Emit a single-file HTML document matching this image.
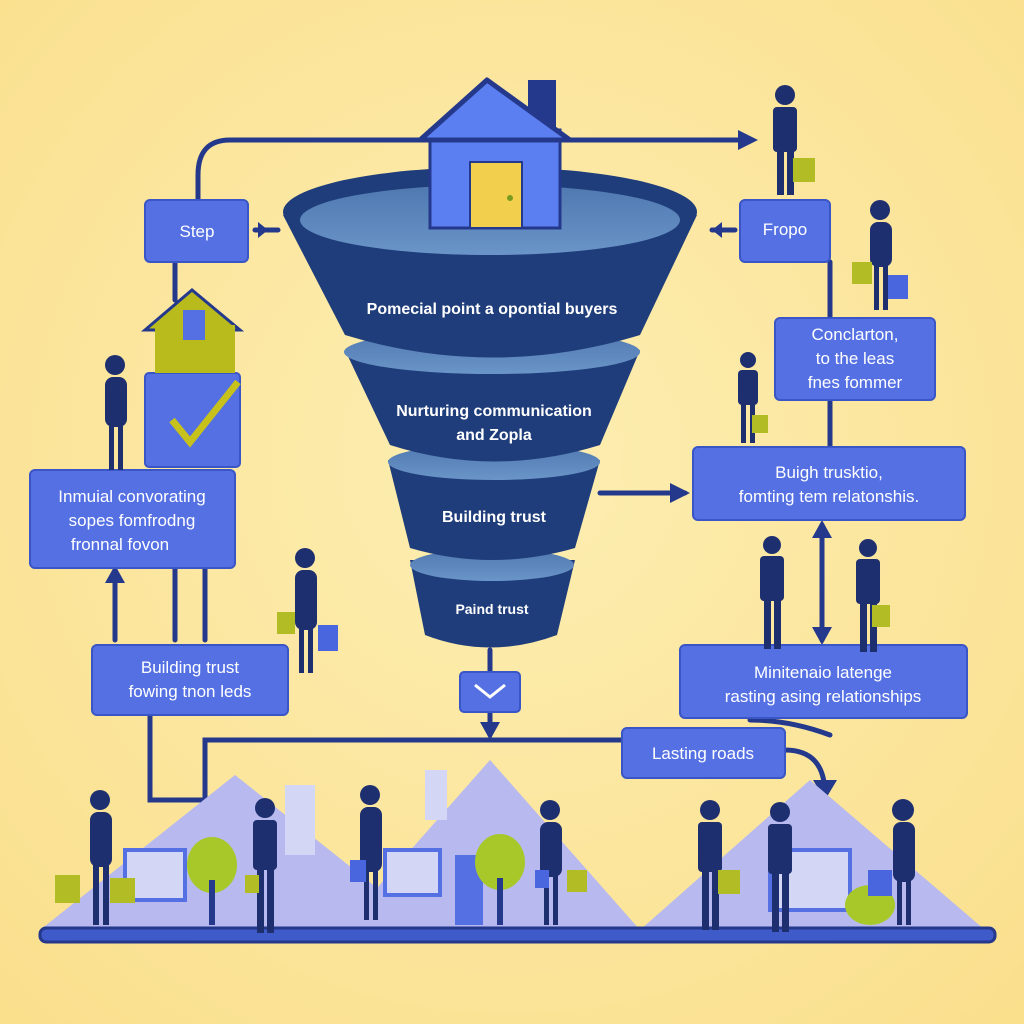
<!DOCTYPE html>
<html><head><meta charset="utf-8"><style>
html,body{margin:0;padding:0;width:1024px;height:1024px;overflow:hidden}
svg{display:block}
text{font-family:"Liberation Sans",sans-serif}
</style></head><body>
<svg width="1024" height="1024" viewBox="0 0 1024 1024" xmlns="http://www.w3.org/2000/svg">
<defs>
<radialGradient id="bg" cx="50%" cy="45%" r="75%"><stop offset="0" stop-color="#fdeeb2"/><stop offset="1" stop-color="#fadf8c"/></radialGradient>
<linearGradient id="rim" x1="0" y1="0" x2="0" y2="1"><stop offset="0" stop-color="#4f78b0"/><stop offset="1" stop-color="#6a95c8"/></linearGradient>
</defs>
<rect width="1024" height="1024" fill="url(#bg)"/>

<!-- connectors -->
<g stroke="#24388c" stroke-width="5" fill="none" stroke-linecap="round">
<path d="M198 200 V175 Q198 140 230 140 H420"/>
<path d="M560 140 H745"/>
<path d="M175 262 V300"/>
<path d="M255 230 H278"/>
<path d="M735 230 H712"/>
<path d="M830 262 V318"/>
<path d="M830 400 V447"/>
<path d="M600 493 H685"/>
<path d="M822 525 V640"/>
<path d="M115 570 V640"/>
<path d="M175 568 V640"/>
<path d="M205 568 V640"/>
<path d="M490 650 V735"/>
<path d="M150 715 V800 H205 V740 H625"/>
<path d="M785 750 Q825 750 825 795"/>
<path d="M750 720 Q790 720 830 735"/>
</g>
<g fill="#24388c">
<polygon points="758,140 738,130 738,150"/>
<polygon points="690,493 670,483 670,503"/>
<polygon points="822,520 812,538 832,538"/>
<polygon points="822,645 812,627 832,627"/>
<polygon points="115,565 105,583 125,583"/>
<polygon points="490,740 480,722 500,722"/>
<polygon points="825,800 813,780 837,780"/>
<polygon points="268,230 258,222 258,238"/>
<polygon points="712,230 722,222 722,238"/>
</g>

<!-- funnel -->
<path d="M410 560 L425 635 Q490 660 557 635 L575 560 Z" fill="#1f3d7a"/>
<ellipse cx="492" cy="565" rx="82" ry="16" fill="url(#rim)"/>
<path d="M388 460 L410 548 Q492 572 575 548 L600 460 Z" fill="#1f3d7a"/>
<ellipse cx="494" cy="462" rx="106" ry="18" fill="url(#rim)"/>
<path d="M345 350 L390 445 Q494 478 600 445 L640 350 Z" fill="#1f3d7a"/>
<ellipse cx="492" cy="352" rx="148" ry="22" fill="url(#rim)"/>
<path d="M283 215 L345 335 Q492 380 640 335 L697 215 Z" fill="#1f3d7a"/>
<ellipse cx="490" cy="212" rx="207" ry="45" fill="#1f3d7a"/>
<ellipse cx="490" cy="220" rx="190" ry="35" fill="url(#rim)"/>

<!-- house on funnel -->
<rect x="528" y="80" width="28" height="50" fill="#24388c"/>
<rect x="430" y="130" width="130" height="98" fill="#5b7ff0" stroke="#24388c" stroke-width="3"/>
<polygon points="420,140 487,80 570,140" fill="#5b7ff0" stroke="#24388c" stroke-width="5" stroke-linejoin="round"/>
<rect x="470" y="162" width="52" height="66" fill="#f3cf4e" stroke="#24388c" stroke-width="2"/>
<circle cx="510" cy="198" r="3" fill="#7a9a20"/>

<g fill="#fff" font-size="16" text-anchor="middle" font-weight="bold">
<text x="492" y="314">Pomecial point a opontial buyers</text>
<text x="494" y="416">Nurturing communication</text>
<text x="494" y="440">and Zopla</text>
<text x="494" y="522">Building trust</text>
<text x="492" y="614" font-size="14">Paind trust</text>
</g>

<!-- boxes -->
<g fill="#5470e3" stroke="#3a55c6" stroke-width="2">
<rect x="145" y="200" width="103" height="62" rx="5"/>
<rect x="740" y="200" width="90" height="62" rx="5"/>
<rect x="775" y="318" width="160" height="82" rx="5"/>
<rect x="693" y="447" width="272" height="73" rx="5"/>
<rect x="680" y="645" width="287" height="73" rx="5"/>
<rect x="622" y="728" width="163" height="50" rx="5"/>
<rect x="92" y="645" width="196" height="70" rx="5"/>
<rect x="30" y="470" width="205" height="98" rx="5"/>
<rect x="460" y="672" width="60" height="40" rx="4"/>
<rect x="145" y="373" width="95" height="94" rx="4"/>
</g>
<path d="M172 420 L190 442 L238 382" stroke="#c6c21b" stroke-width="7" fill="none"/>
<path d="M475 685 L490 697 L505 685" stroke="#fff" stroke-width="3" fill="none"/>
<!-- green house -->
<polygon points="145,330 192,290 240,330" fill="#b9bb1c" stroke="#24388c" stroke-width="3"/>
<rect x="155" y="325" width="80" height="48" fill="#b9bb1c"/>
<rect x="183" y="310" width="22" height="30" fill="#5470e3"/>

<g fill="#fff" font-size="17" text-anchor="middle">
<text x="197" y="237">Step</text>
<text x="785" y="235">Fropo</text>
<text x="855" y="340">Conclarton,</text>
<text x="855" y="364">to the leas</text>
<text x="855" y="388">fnes fommer</text>
<text x="829" y="478">Buigh trusktio,</text>
<text x="829" y="502">fomting tem relatonshis.</text>
<text x="823" y="678">Minitenaio latenge</text>
<text x="823" y="702">rasting asing relationships</text>
<text x="703" y="759">Lasting roads</text>
<text x="190" y="673">Building trust</text>
<text x="190" y="697">fowing tnon leds</text>
<text x="132" y="502">Inmuial convorating</text>
<text x="132" y="526">sopes fomfrodng</text>
<text x="120" y="550">fronnal fovon</text>
</g>

<!-- bottom scene -->
<g fill="#b7b9ef">
<polygon points="40,930 235,775 430,930"/>
<polygon points="340,930 490,760 640,930"/>
<polygon points="640,930 810,780 985,930"/>
</g>
<g fill="#d4d6f5">
<rect x="285" y="785" width="30" height="70"/>
<rect x="425" y="770" width="22" height="50"/>
<rect x="125" y="850" width="60" height="50" stroke="#5470e3" stroke-width="4"/>
<rect x="385" y="850" width="55" height="45" stroke="#5470e3" stroke-width="4"/>
<rect x="770" y="850" width="80" height="60" stroke="#5470e3" stroke-width="4"/>
</g>
<rect x="455" y="855" width="28" height="70" fill="#5470e3"/>
<g fill="#a8c82a">
<ellipse cx="212" cy="865" rx="25" ry="28"/><rect x="209" y="880" width="6" height="45" fill="#24388c"/>
<ellipse cx="500" cy="862" rx="25" ry="28"/><rect x="497" y="878" width="6" height="47" fill="#24388c"/>
<ellipse cx="870" cy="905" rx="25" ry="20"/>
</g>
<rect x="40" y="928" width="955" height="14" rx="6" fill="#3f5bc9" stroke="#24388c" stroke-width="3"/>

<!-- people -->
<g fill="#1e2f70">
<g transform="translate(90,800)"><circle cx="10" cy="0" r="10"/><rect x="0" y="12" width="22" height="55" rx="8"/><rect x="3" y="65" width="6" height="60"/><rect x="13" y="65" width="6" height="60"/></g>
<g transform="translate(255,808)"><circle cx="10" cy="0" r="10"/><rect x="-2" y="12" width="24" height="50" rx="4"/><rect x="2" y="60" width="7" height="65"/><rect x="12" y="60" width="7" height="65"/></g>
<g transform="translate(360,795)"><circle cx="10" cy="0" r="10"/><rect x="0" y="12" width="22" height="65" rx="8"/><rect x="4" y="75" width="5" height="50"/><rect x="13" y="75" width="5" height="50"/></g>
<g transform="translate(540,810)"><circle cx="10" cy="0" r="10"/><rect x="0" y="12" width="22" height="55" rx="8"/><rect x="4" y="65" width="5" height="50"/><rect x="13" y="65" width="5" height="50"/></g>
<g transform="translate(700,810)"><circle cx="10" cy="0" r="10"/><rect x="-2" y="12" width="24" height="50" rx="4"/><rect x="2" y="60" width="7" height="60"/><rect x="12" y="60" width="7" height="60"/></g>
<g transform="translate(770,812)"><circle cx="10" cy="0" r="10"/><rect x="-2" y="12" width="24" height="50" rx="4"/><rect x="2" y="60" width="7" height="60"/><rect x="12" y="60" width="7" height="60"/></g>
<g transform="translate(893,810)"><circle cx="10" cy="0" r="11"/><rect x="0" y="12" width="22" height="60" rx="8"/><rect x="4" y="70" width="5" height="45"/><rect x="13" y="70" width="5" height="45"/></g>
<g transform="translate(295,558)"><circle cx="10" cy="0" r="10"/><rect x="0" y="12" width="22" height="60" rx="8"/><rect x="4" y="70" width="5" height="45"/><rect x="13" y="70" width="5" height="45"/></g>
<g transform="translate(105,365)"><circle cx="10" cy="0" r="10"/><rect x="0" y="12" width="22" height="50" rx="8"/><rect x="4" y="60" width="5" height="45"/><rect x="13" y="60" width="5" height="45"/></g>
<g transform="translate(775,95)"><circle cx="10" cy="0" r="10"/><rect x="-2" y="12" width="24" height="45" rx="4"/><rect x="2" y="55" width="7" height="45"/><rect x="12" y="55" width="7" height="45"/></g>
<g transform="translate(870,210)"><circle cx="10" cy="0" r="10"/><rect x="0" y="12" width="22" height="45" rx="8"/><rect x="4" y="55" width="5" height="45"/><rect x="13" y="55" width="5" height="45"/></g>
<g transform="translate(738,360)"><circle cx="10" cy="0" r="8"/><rect x="0" y="10" width="20" height="35" rx="4"/><rect x="3" y="43" width="5" height="40"/><rect x="12" y="43" width="5" height="40"/></g>
<g transform="translate(762,545)"><circle cx="10" cy="0" r="9"/><rect x="-2" y="11" width="24" height="45" rx="4"/><rect x="2" y="54" width="7" height="50"/><rect x="12" y="54" width="7" height="50"/></g>
<g transform="translate(858,548)"><circle cx="10" cy="0" r="9"/><rect x="-2" y="11" width="24" height="45" rx="4"/><rect x="2" y="54" width="7" height="50"/><rect x="12" y="54" width="7" height="50"/></g>
</g>
<g fill="#b2bc24">
<rect x="55" y="875" width="25" height="28"/><rect x="110" y="878" width="25" height="25"/>
<rect x="567" y="870" width="20" height="22"/><rect x="718" y="870" width="22" height="24"/>
<rect x="793" y="158" width="22" height="24"/><rect x="852" y="262" width="20" height="22"/>
<rect x="277" y="612" width="18" height="22"/><rect x="752" y="415" width="16" height="18"/><rect x="872" y="605" width="18" height="22"/>
<rect x="245" y="875" width="14" height="18"/>
</g>
<g fill="#4a66de">
<rect x="318" y="625" width="20" height="26"/><rect x="888" y="275" width="20" height="24"/>
<rect x="868" y="870" width="24" height="26"/><rect x="535" y="870" width="14" height="18"/>
<rect x="350" y="860" width="16" height="22"/>
</g>
</svg>
</body></html>
